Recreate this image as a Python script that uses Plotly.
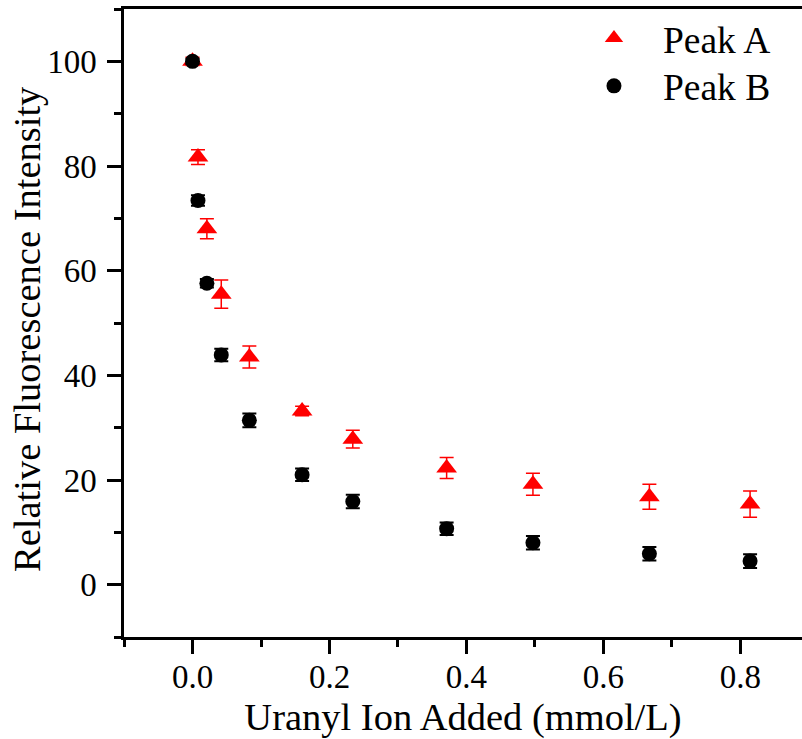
import plotly.graph_objects as go

# Uranyl ion concentration (mmol/L)
conc = [0.0, 0.008, 0.021, 0.042, 0.083, 0.160, 0.234, 0.371, 0.497, 0.667, 0.814]

# Relative fluorescence intensity, peak A and peak B, with standard deviations
peak_a = [100.0, 81.7, 68.0, 55.5, 43.5, 33.2, 27.8, 22.3, 19.2, 16.8, 15.4]
peak_a_err = [0.8, 1.4, 1.9, 2.7, 2.1, 0.9, 1.7, 2.0, 2.1, 2.4, 2.5]

peak_b = [100.0, 73.4, 57.6, 43.9, 31.4, 21.0, 15.9, 10.7, 8.0, 5.9, 4.5]
peak_b_err = [0.5, 1.0, 0.8, 1.2, 1.3, 1.2, 1.3, 1.2, 1.3, 1.3, 1.3]

FONT = "Liberation Serif"

fig = go.Figure()

fig.add_trace(go.Scatter(
    x=conc, y=peak_a, mode="markers", name="Peak A", legend="legend",
    marker=dict(symbol="triangle-up", size=18, color="#ff0000"),
    error_y=dict(type="data", array=peak_a_err, visible=True,
                 color="#ff0000", thickness=1.5, width=7),
))

fig.add_trace(go.Scatter(
    x=conc, y=peak_b, mode="markers", name="Peak B", legend="legend2",
    marker=dict(symbol="circle", size=15, color="#000000"),
    error_y=dict(type="data", array=peak_b_err, visible=True,
                 color="#000000", thickness=2, width=7),
))

axis_common = dict(
    showline=True, linecolor="black", linewidth=2.5,
    ticks="outside", ticklen=14, tickwidth=2.5, tickcolor="black",
    showgrid=False, zeroline=False,
    tickfont=dict(family=FONT, size=33, color="black"),
)

legend_common = dict(
    xanchor="left", yanchor="top",
    font=dict(family=FONT, size=37.5, color="black"),
    bgcolor="rgba(0,0,0,0)", itemwidth=88,
)

fig.update_layout(
    width=802, height=739,
    margin=dict(l=124, r=0, t=9, b=102),
    paper_bgcolor="white", plot_bgcolor="white",
    font=dict(family=FONT, color="black"),
    xaxis=dict(
        range=[-0.1, 0.8898],
        tickmode="array", tickvals=[0.0, 0.2, 0.4, 0.6, 0.8],
        ticktext=["0.0", "0.2", "0.4", "0.6", "0.8"],
        minor=dict(dtick=0.1, tick0=0, ticks="outside", ticklen=7,
                   tickwidth=2.5, tickcolor="black"),
        mirror=True,
        ticklabelstandoff=-5,
        title=dict(text="Uranyl Ion Added (mmol/L)",
                   font=dict(family=FONT, size=38.5, color="black"), standoff=13),
        **axis_common,
    ),
    yaxis=dict(
        range=[-10, 110],
        tickmode="array", tickvals=[0, 20, 40, 60, 80, 100],
        ticktext=["0", "20", "40", "60", "80", "100"],
        minor=dict(dtick=10, tick0=0, ticks="outside", ticklen=7,
                   tickwidth=2.5, tickcolor="black"),
        ticklabelstandoff=4,
        **axis_common,
    ),
    legend=dict(x=0.6504, y=1.003, **legend_common),
    legend2=dict(x=0.6504, y=0.9268, **legend_common),
    showlegend=True,
    annotations=[dict(
        text="Relative Fluorescence Intensity",
        textangle=-90, xref="paper", yref="paper",
        x=-0.142, y=0.49, xanchor="center", yanchor="middle",
        showarrow=False,
        font=dict(family=FONT, size=38.5, color="black"),
    )],
)

fig.write_html("out.html")
